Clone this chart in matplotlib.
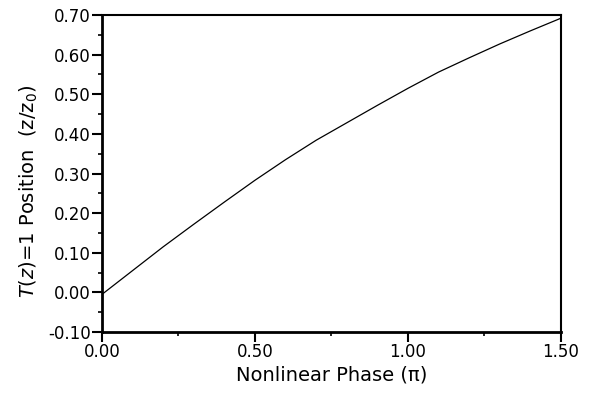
import matplotlib
matplotlib.use("Agg")
import matplotlib.pyplot as plt
from matplotlib.ticker import MultipleLocator, FormatStrFormatter

# values
phase = [0.0, 0.1, 0.2, 0.3, 0.4, 0.5, 0.6, 0.7, 0.8, 0.9,
         1.0, 1.1, 1.2, 1.3, 1.4, 1.5]
position = [-0.005, 0.055, 0.115, 0.172, 0.228, 0.283, 0.335, 0.384, 0.428, 0.472,
            0.515, 0.556, 0.592, 0.627, 0.660, 0.692]

plt.rcParams['font.family'] = ['DejaVu Sans']
plt.rcParams['mathtext.fontset'] = 'dejavusans'

fig = plt.figure(figsize=(5.92, 3.95), dpi=100)
ax = fig.add_axes([0.1723, 0.1595, 0.7753, 0.8025])

ax.plot(phase, position, color="black", lw=0.9)

ax.set_xlim(0, 1.5)
ax.set_ylim(-0.1, 0.7)
ax.xaxis.set_major_locator(MultipleLocator(0.5))
ax.xaxis.set_minor_locator(MultipleLocator(0.25))
ax.yaxis.set_major_locator(MultipleLocator(0.1))
ax.yaxis.set_minor_locator(MultipleLocator(0.05))
ax.xaxis.set_major_formatter(FormatStrFormatter('%.2f'))
ax.yaxis.set_major_formatter(FormatStrFormatter('%.2f'))

ax.tick_params(which='major', direction='out', length=7, width=1.5, labelsize=12, pad=1)
ax.tick_params(which='minor', direction='out', length=3, width=1.2)

for s in ['left', 'bottom']:
    ax.spines[s].set_linewidth(2)
for s in ['top', 'right']:
    ax.spines[s].set_linewidth(1.5)

ax.set_xlabel("Nonlinear Phase (π)", fontsize=14, labelpad=3)
ax.set_ylabel(r"$T(z)$=1 Position  (z/z$_0$)", fontsize=14)
ax.yaxis.set_label_coords(-0.135, 0.445)

fig.savefig("out.png", dpi=100)
